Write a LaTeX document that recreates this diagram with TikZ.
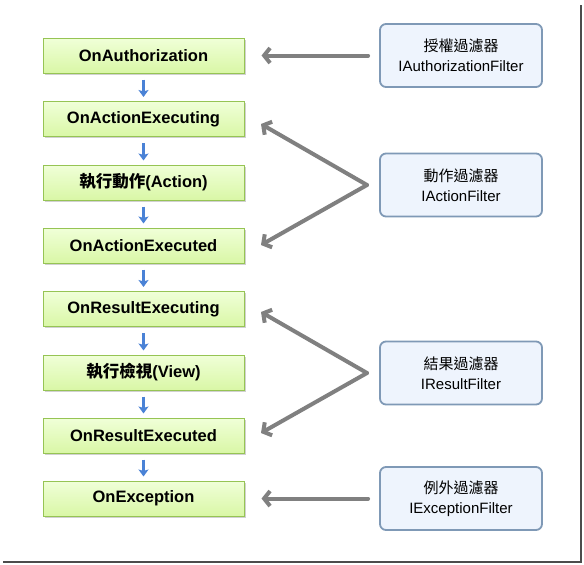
\documentclass[tikz,border=0pt]{standalone}
\usepackage{fontspec}
\setmainfont{Liberation Sans}
\newfontfamily\cjk{Noto Sans CJK TC}
\usetikzlibrary{arrows.meta,shadows}
\definecolor{gfill1}{HTML}{F0FFD8}
\definecolor{gfill2}{HTML}{D9F7A6}
\definecolor{gborder}{HTML}{96C454}
\definecolor{bfill}{HTML}{EEF4FD}
\definecolor{bborder}{HTML}{7F99B6}
\definecolor{garrow}{HTML}{808080}
\definecolor{barrow}{HTML}{4A82D6}
\tikzset{
  stepbox/.style={draw=gborder, line width=1pt, top color=gfill1, bottom color=gfill2,
    minimum width=201pt, minimum height=35pt, inner sep=0pt,
    font=\fontsize{16.5}{18}\selectfont\bfseries,
    drop shadow={shadow xshift=1.5pt, shadow yshift=-1.5pt, fill=black, opacity=0.18}},
  filterbox/.style={draw=bborder, line width=1.8pt, fill=bfill, rounded corners=6pt,
    minimum width=162pt, minimum height=63pt, inner sep=0pt, align=center,
    font=\fontsize{15}{20}\selectfont},
  flow/.style={draw=barrow, line width=2.4pt, -{Stealth[length=7pt,width=10pt,inset=1.5pt]}},
  link/.style={draw=garrow, line width=4pt, line cap=round, line join=round,
    -{Straight Barb[length=6pt,width=15pt,line width=4pt]}},
}
\begin{document}
\begin{tikzpicture}[x=1pt,y=-1pt]
\useasboundingbox (0,0) rectangle (584,565);
\fill[white] (0,0) rectangle (584,565);
% frame shadow
\draw[gray!60!black, line width=2pt] (581,5) -- (581,562);
\draw[gray!60!black, line width=2pt] (3,562) -- (582,562);

\node[stepbox] (a) at (143.5,55.5) {OnAuthorization};
\node[stepbox] (b) at (143.5,119) {OnActionExecuting};
\node[stepbox] (c) at (143.5,182.5) {{\cjk 執行動作}(Action)};
\node[stepbox] (d) at (143.5,245.5) {OnActionExecuted};
\node[stepbox] (e) at (143.5,309) {OnResultExecuting};
\node[stepbox] (f) at (143.5,372.5) {{\cjk 執行檢視}(View)};
\node[stepbox] (g) at (143.5,435.5) {OnResultExecuted};
\node[stepbox] (h) at (143.5,498.5) {OnException};

\foreach \u/\v in {a/b,b/c,c/d,d/e,e/f,f/g,g/h}{
  \draw[flow] ([yshift=-6pt]\u.south) -- ([yshift=4pt]\v.north);
}

\node[filterbox] (fa) at (461,55.5) {{\cjk 授權過濾器}\\IAuthorizationFilter};
\node[filterbox] (fb) at (461,185) {{\cjk 動作過濾器}\\IActionFilter};
\node[filterbox] (fc) at (461,373) {{\cjk 結果過濾器}\\IResultFilter};
\node[filterbox] (fd) at (461,498.5) {{\cjk 例外過濾器}\\IExceptionFilter};

\coordinate (pb) at (367,185);
\coordinate (pc) at (367,373);

\draw[link] ([xshift=-11pt]fa.west) -- ([xshift=17pt]a.east);
\draw[link] ([xshift=-11pt]fd.west) -- ([xshift=17pt]h.east);
\draw[link] (pb) -- (261,124);
\draw[link] (pb) -- (261,245);
\draw[link] (pc) -- (261,312);
\draw[link] (pc) -- (261,433);
\end{tikzpicture}
\end{document}
